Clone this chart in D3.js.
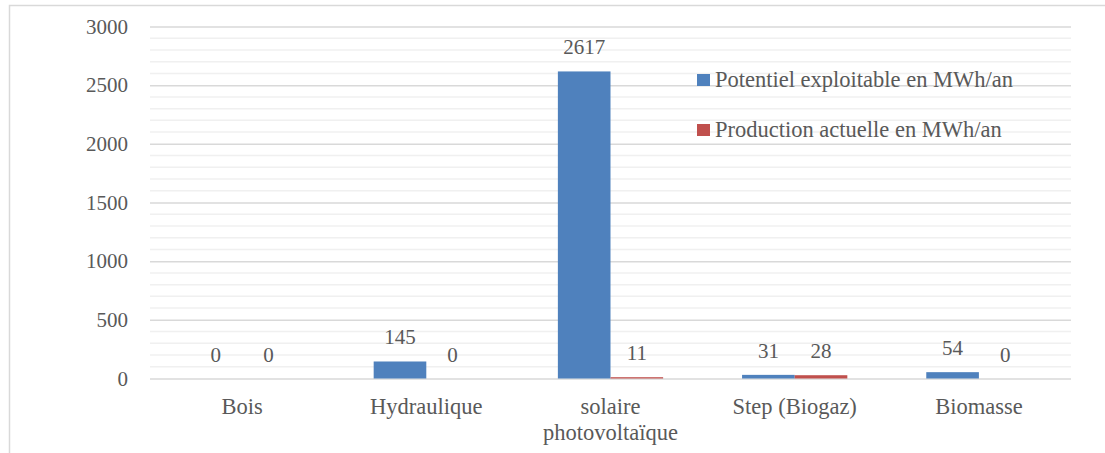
<!DOCTYPE html>
<html>
<head>
<meta charset="utf-8">
<script src="https://cdn.jsdelivr.net/npm/d3@7"></script>
<style>
  html, body { margin: 0; padding: 0; background: #fff; }
  svg { display: block; }
</style>
</head>
<body>
<svg id="chart" width="1105" height="453"></svg>
<script>
// Energy sources and the two measured series (MWh/an)
const categories = ["Bois", "Hydraulique", "solaire photovoltaïque", "Step (Biogaz)", "Biomasse"];
const categoryLines = [["Bois"], ["Hydraulique"], ["solaire", "photovoltaïque"], ["Step (Biogaz)"], ["Biomasse"]];
const seriesNames = ["Potentiel exploitable en MWh/an", "Production actuelle en MWh/an"];
const potentiel = [0, 145, 2617, 31, 54];
const production = [0, 0, 11, 28, 0];
const yTicks = [0, 500, 1000, 1500, 2000, 2500, 3000];
const colors = ["#4f81bd", "#c0504d"];

const FONT = "Liberation Serif";
const NUM_FS = 21;    // numbers: axis ticks and value labels
const WORD_FS = 22.5; // category names and legend entries
const TXT = "#595959";

const svg = d3.select("#chart");
const W = 1105, H = 453;
const plot = { left: 150, right: 1071, top: 26.5, bottom: 378.5 };

// applies the shared label font to a selection of text nodes
function labelFont(sel, size) {
  return sel.attr("font-family", FONT).attr("font-size", size).attr("fill", TXT);
}

// outer chart frame
svg.append("rect")
  .attr("x", 9.5).attr("y", 5.5)
  .attr("width", W + 20).attr("height", H + 20)
  .attr("fill", "#fff").attr("stroke", "#d9d9d9").attr("stroke-width", 1.5);

const x = d3.scaleBand().domain(categories).range([plot.left, plot.right]).paddingInner(0).paddingOuter(0);
const y = d3.scaleLinear().domain([0, 3000]).range([plot.bottom, plot.top]);
const xs = d3.scaleBand().domain([0, 1]).range([0, x.bandwidth()]).paddingInner(0).paddingOuter(0.75);

// minor gridlines every 100
const minor = d3.range(100, 3000, 100).filter(v => v % 500 !== 0);
svg.append("g").selectAll("line").data(minor).join("line")
  .attr("x1", plot.left).attr("x2", plot.right)
  .attr("y1", d => y(d)).attr("y2", d => y(d))
  .attr("stroke", "#f0f0f0").attr("stroke-width", 1.5);

// major gridlines + y axis labels
const yAxis = d3.axisLeft(y).tickValues(yTicks).tickFormat(d3.format("d"))
  .tickSize(-(plot.right - plot.left)).tickPadding(22);
const gy = svg.append("g").attr("transform", `translate(${plot.left},0)`).call(yAxis)
  .attr("font-family", FONT).attr("font-size", NUM_FS);
gy.select(".domain").remove();
gy.selectAll(".tick line").attr("stroke", "#d9d9d9").attr("stroke-width", 1.5);
labelFont(gy.selectAll(".tick text"), NUM_FS);

// bars with value labels
const series = [potentiel, production];
series.forEach((vals, si) => {
  const g = svg.append("g");
  g.selectAll("rect").data(vals).join("rect")
    .attr("x", (d, i) => x(categories[i]) + xs(si))
    .attr("width", xs.bandwidth())
    .attr("y", d => y(d))
    .attr("height", d => y(0) - y(d))
    .attr("fill", colors[si]);
  labelFont(g.selectAll("text").data(vals).join("text"), NUM_FS)
    .attr("x", (d, i) => x(categories[i]) + xs(si) + xs.bandwidth() / 2)
    .attr("y", d => y(d) - 17)
    .attr("text-anchor", "middle")
    .text(d => d);
});

// category labels
const gx = svg.append("g");
categoryLines.forEach((lines, i) => {
  const cx = x(categories[i]) + x.bandwidth() / 2;
  const t = labelFont(gx.append("text"), WORD_FS)
    .attr("x", cx).attr("y", 414)
    .attr("text-anchor", "middle");
  lines.forEach((ln, k) => {
    t.append("tspan").attr("x", cx).attr("dy", k === 0 ? 0 : 26).text(ln);
  });
});

// legend
const legend = svg.append("g");
seriesNames.forEach((name, i) => {
  const ly = 87 + i * 50;
  legend.append("rect").attr("x", 697).attr("y", ly - 13).attr("width", 13).attr("height", 12).attr("fill", colors[i]);
  labelFont(legend.append("text"), WORD_FS).attr("x", 715).attr("y", ly).text(name);
});
</script>
</body>
</html>
